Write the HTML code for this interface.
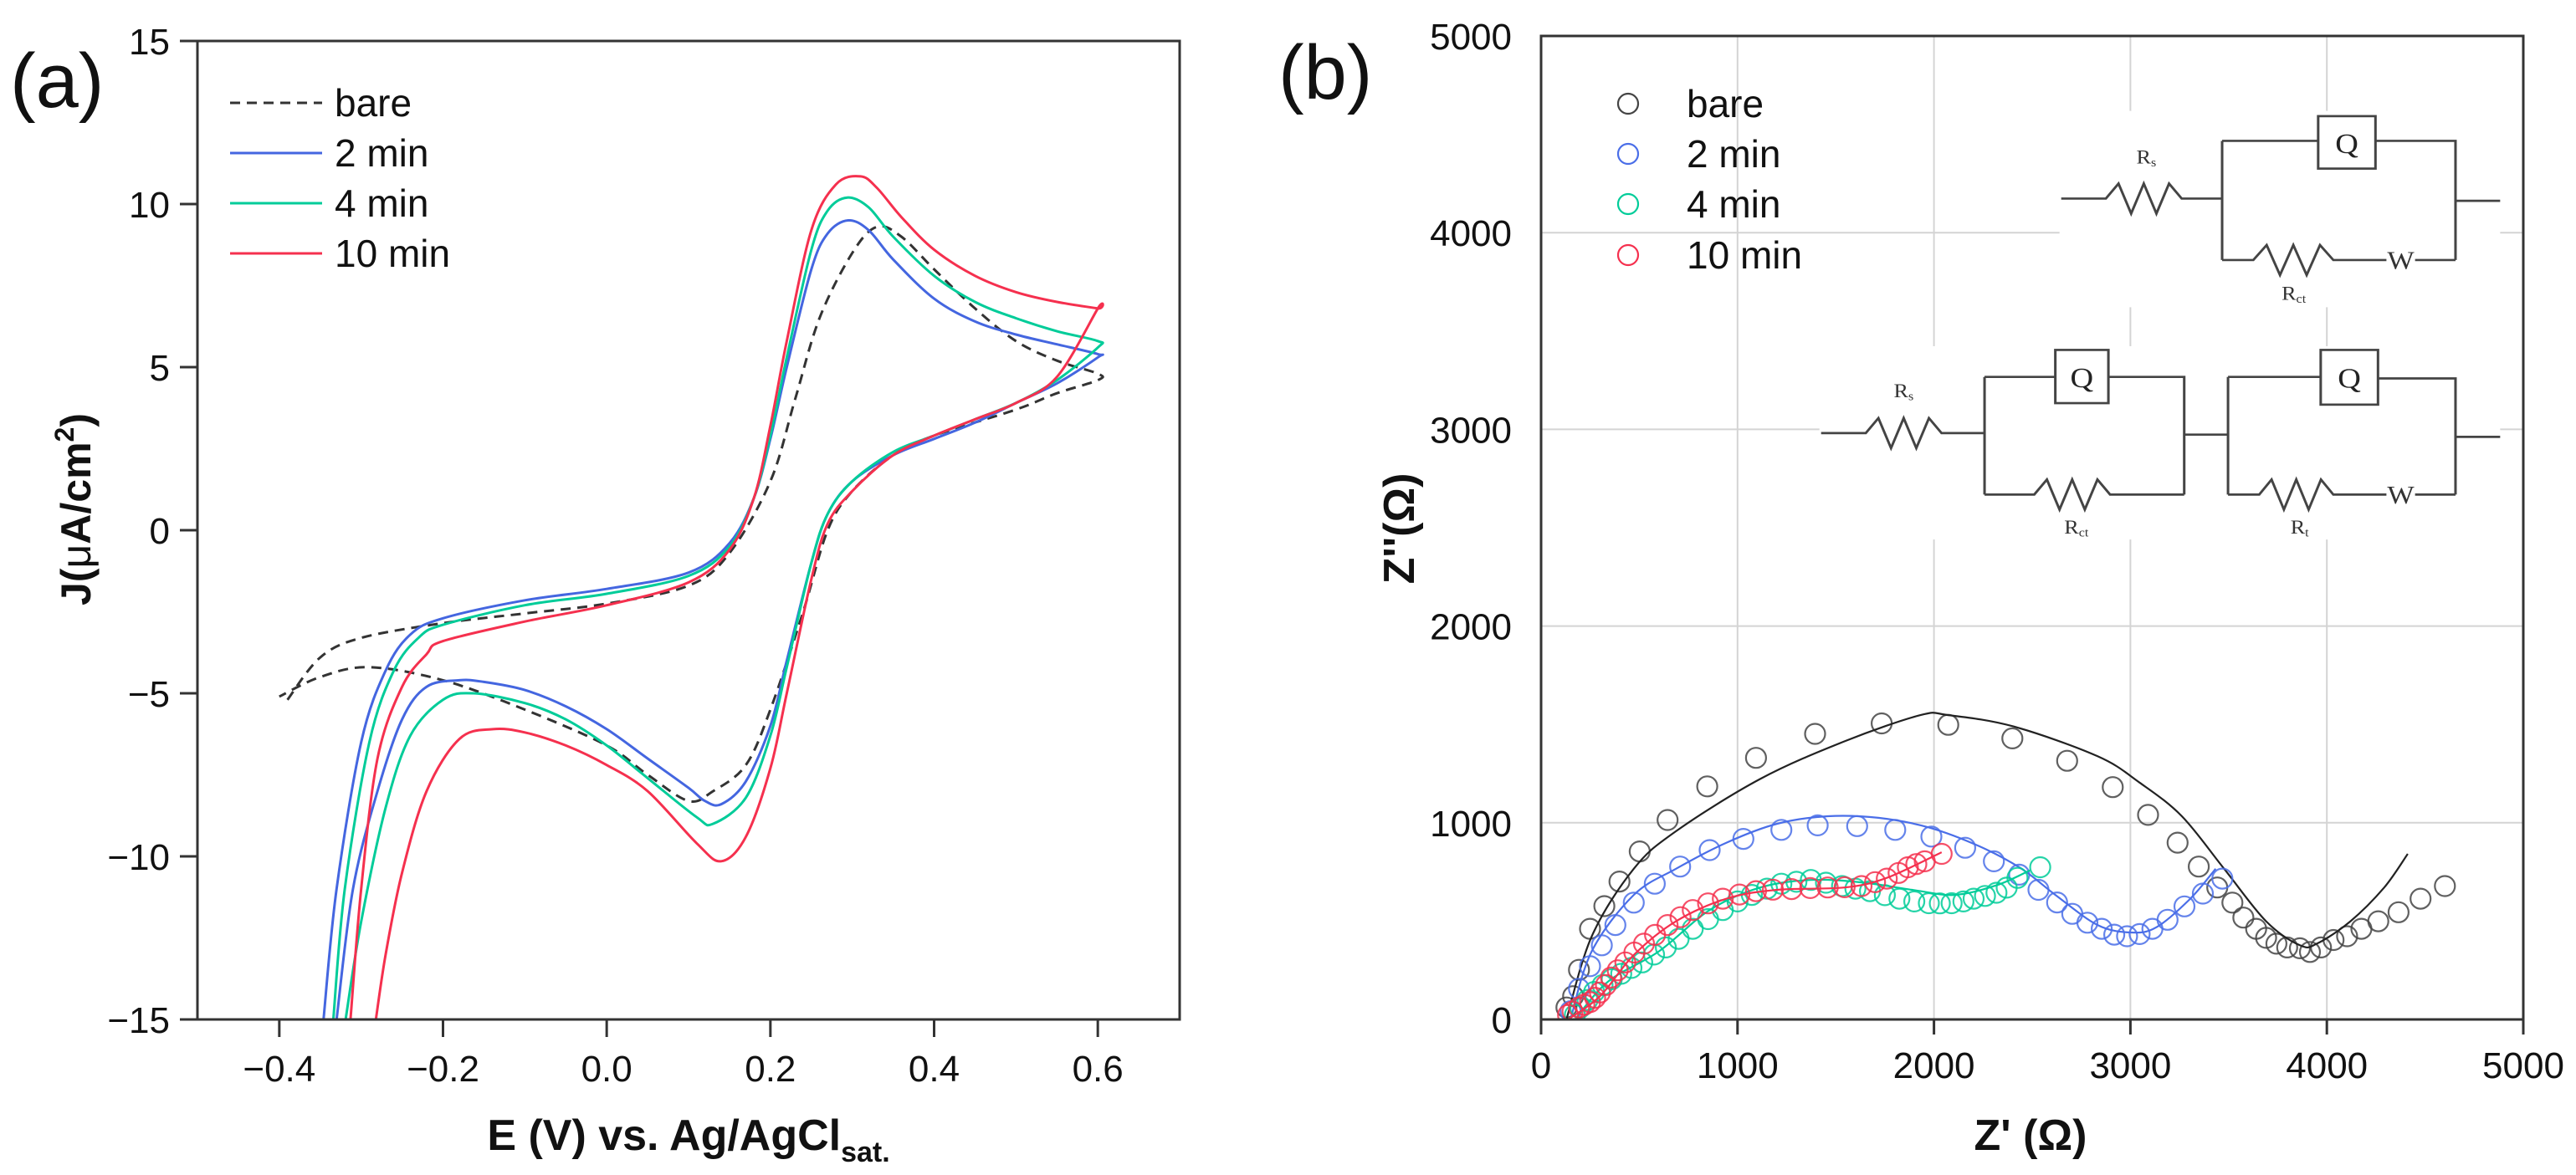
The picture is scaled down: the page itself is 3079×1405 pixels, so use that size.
<!DOCTYPE html>
<html><head><meta charset="utf-8"><style>
html,body{margin:0;padding:0;background:#fff;}
svg{display:block;font-family:"Liberation Sans",Arial,sans-serif;}
</style></head><body>
<svg id="fig" width="3079" height="1405" viewBox="0 0 3079 1405" xmlns="http://www.w3.org/2000/svg">
<rect x="0" y="0" width="3079" height="1405" fill="#fff"/>
<g id="pa"></g>
<g id="pb"></g>
</svg>
<script>
// ---------- Panel (a) data ----------
const cvSeries = ["bare","2 min","4 min","10 min"];
const cvColors = ["#333","#4466e0","#00cc99","#f5304e"];
const cvE_bare = [-0.39,-0.35,-0.3,-0.2,-0.1,0,0.1,0.15,0.2,0.23,0.26,0.3,0.33,0.36,0.4,0.45,0.5,0.55,0.6,0.6,0.55,0.5,0.4,0.35,0.3,0.27,0.24,0.2,0.17,0.13,0.1,0.05,0,-0.1,-0.2,-0.29,-0.35,-0.4];
const cvJ_bare = [-5.2,-3.9,-3.3,-2.85,-2.55,-2.25,-1.7,-0.7,1.5,4,6.5,8.5,9.3,9.0,8.0,6.8,5.8,5.2,4.8,4.6,4.2,3.7,2.9,2.3,1.2,0,-2.5,-5.5,-7.2,-8.0,-8.3,-7.5,-6.6,-5.5,-4.6,-4.2,-4.5,-5.1];
const cvE_2 = [-0.346,-0.33,-0.3,-0.27,-0.24,-0.2,-0.1,0,0.1,0.15,0.18,0.2,0.22,0.25,0.27,0.295,0.32,0.35,0.4,0.45,0.5,0.55,0.6,0.6,0.55,0.5,0.45,0.4,0.35,0.3,0.27,0.25,0.22,0.2,0.17,0.14,0.12,0.1,0.05,0,-0.05,-0.1,-0.15,-0.18,-0.22,-0.25,-0.28,-0.31,-0.33];
const cvJ_2 = [-15,-11,-6.5,-4.3,-3.2,-2.7,-2.15,-1.8,-1.3,-0.4,1.0,2.8,5.0,8.0,9.1,9.5,9.2,8.3,7.1,6.4,6.0,5.7,5.4,5.3,4.5,3.9,3.3,2.8,2.3,1.5,0.5,-1.0,-4.0,-6.0,-7.7,-8.4,-8.3,-7.9,-7.0,-6.1,-5.4,-4.9,-4.65,-4.6,-4.8,-5.8,-8,-11,-15];
const cvE_4 = [-0.334,-0.32,-0.29,-0.26,-0.23,-0.2,-0.1,0,0.1,0.15,0.18,0.2,0.22,0.25,0.27,0.294,0.32,0.35,0.4,0.45,0.5,0.55,0.6,0.6,0.55,0.5,0.45,0.4,0.35,0.3,0.27,0.25,0.22,0.2,0.17,0.13,0.11,0.05,0,-0.05,-0.1,-0.163,-0.2,-0.24,-0.27,-0.3,-0.319];
const cvJ_4 = [-15,-11,-6.5,-4.3,-3.3,-2.9,-2.3,-1.95,-1.4,-0.5,1.0,2.9,5.3,8.6,9.8,10.2,9.9,9.0,7.8,7.0,6.5,6.1,5.8,5.6,4.6,3.9,3.4,2.9,2.4,1.5,0.5,-1.0,-4.2,-6.3,-8.2,-9.0,-8.8,-7.6,-6.6,-5.8,-5.3,-5.0,-5.2,-6.3,-8.5,-12,-15];
const cvE_10 = [-0.313,-0.3,-0.28,-0.25,-0.22,-0.2,-0.1,0,0.1,0.15,0.18,0.2,0.22,0.25,0.28,0.31,0.33,0.36,0.4,0.45,0.5,0.55,0.6,0.6,0.55,0.5,0.45,0.4,0.35,0.3,0.27,0.25,0.22,0.2,0.17,0.14,0.11,0.05,0,-0.05,-0.1,-0.139,-0.18,-0.22,-0.25,-0.27,-0.282];
const cvJ_10 = [-15,-11,-7,-4.8,-3.8,-3.4,-2.8,-2.3,-1.6,-0.6,1.0,3.2,5.8,9.2,10.6,10.85,10.5,9.6,8.6,7.8,7.3,7.0,6.8,6.8,4.7,3.9,3.4,2.9,2.3,1.2,0.2,-1.5,-5.0,-7.3,-9.4,-10.15,-9.6,-8.0,-7.2,-6.6,-6.2,-6.1,-6.4,-8,-10.5,-13,-15];
const cvE = [cvE_bare,cvE_2,cvE_4,cvE_10];
const cvJ = [cvJ_bare,cvJ_2,cvJ_4,cvJ_10];
const cvXTicks = [-0.4,-0.2,0.0,0.2,0.4,0.6];
const cvXTickLabels = ["\u22120.4","\u22120.2","0.0","0.2","0.4","0.6"];
const cvYTicks = [15,10,5,0,-5,-10,-15];
const cvYTickLabels = ["15","10","5","0","\u22125","\u221210","\u221215"];

// ---------- Panel (b) data ----------
const nySeries = ["bare","2 min","4 min","10 min"];
const nyColors = ["#444","#4a6ee8","#00cc99","#f5304e"];
const nyPtX_bare = [129,163,193,249,322,399,502,644,846,1094,1395,1734,2073,2399,2678,2910,3090,3240,3348,3442,3519,3575,3640,3691,3743,3798,3863,3914,3970,4034,4103,4176,4262,4365,4477,4601];
const nyPtY_bare = [61,118,252,461,576,701,854,1014,1185,1330,1452,1505,1498,1429,1315,1181,1040,899,777,671,594,518,461,415,385,366,362,343,366,404,423,461,499,545,614,678];
const nyPtX_2 = [150,193,249,309,378,472,579,708,858,1030,1223,1408,1609,1803,1987,2159,2305,2434,2532,2627,2704,2781,2854,2918,2983,3047,3112,3189,3275,3369,3468];
const nyPtY_2 = [42,156,271,377,480,594,690,777,861,918,964,987,983,964,930,873,804,736,659,595,537,492,461,431,423,434,461,507,575,640,716];
const nyPtX_4 = [172,200,236,270,313,360,408,460,515,575,635,700,772,850,925,1000,1073,1150,1223,1300,1373,1450,1532,1600,1674,1750,1824,1900,1974,2030,2090,2150,2202,2260,2318,2370,2425,2541];
const nyPtY_4 = [23,60,99,140,175,205,232,262,290,330,366,410,461,510,556,600,633,665,690,700,709,695,678,665,652,632,614,600,591,590,591,600,614,628,644,670,720,774];
const nyPtX_10 = [137,160,193,220,249,275,300,330,356,390,429,475,524,580,644,710,772,850,925,1010,1094,1180,1275,1370,1459,1545,1631,1700,1760,1820,1867,1910,1953,2039];
const nyPtY_10 = [23,40,61,75,88,110,137,175,213,250,290,340,385,430,480,520,556,590,614,635,652,660,663,668,671,672,678,698,716,745,774,790,804,842];
const nyFitX_bare = [129,258,472,687,1116,1545,1931,2073,2404,2833,3047,3262,3477,3691,3863,3949,4120,4292,4412];
const nyFitY_bare = [0,423,766,957,1223,1414,1547,1547,1490,1338,1204,1033,766,499,377,385,499,671,842];
const nyFitX_2 = [150,258,472,687,944,1202,1459,1717,1974,2232,2446,2618,2833,3004,3133,3305,3434];
const nyFitY_2 = [0,347,633,766,899,995,1033,1025,976,880,766,633,480,442,469,614,766];
const nyFitX_4 = [172,343,601,858,1116,1373,1631,1889,2103,2318,2489];
const nyFitY_4 = [0,194,347,556,671,709,697,659,633,682,758];
const nyFitX_10 = [137,300,472,687,944,1202,1545,1760,2039];
const nyFitY_10 = [0,118,328,499,614,659,671,720,850];
const nyPtX = [nyPtX_bare,nyPtX_2,nyPtX_4,nyPtX_10];
const nyPtY = [nyPtY_bare,nyPtY_2,nyPtY_4,nyPtY_10];
const nyFitX = [nyFitX_bare,nyFitX_2,nyFitX_4,nyFitX_10];
const nyFitY = [nyFitY_bare,nyFitY_2,nyFitY_4,nyFitY_10];
const nyTicks = [0,1000,2000,3000,4000,5000];
const nyTickLabels = ["0","1000","2000","3000","4000","5000"];

const NS = "http://www.w3.org/2000/svg";
function mk(parent, tag, attrs, text){
  const e = document.createElementNS(NS, tag);
  for (const k in attrs) e.setAttribute(k, attrs[k]);
  if (text !== undefined) e.textContent = text;
  parent.appendChild(e);
  return e;
}
function smooth(pts){
  let d = 'M'+pts[0][0].toFixed(1)+' '+pts[0][1].toFixed(1);
  for(let i=0;i<pts.length-1;i++){
    const p0=pts[Math.max(i-1,0)], p1=pts[i], p2=pts[i+1], p3=pts[Math.min(i+2,pts.length-1)];
    const c1=[p1[0]+(p2[0]-p0[0])/6, p1[1]+(p2[1]-p0[1])/6];
    const c2=[p2[0]-(p3[0]-p1[0])/6, p2[1]-(p3[1]-p1[1])/6];
    d+=' C'+c1[0].toFixed(1)+' '+c1[1].toFixed(1)+' '+c2[0].toFixed(1)+' '+c2[1].toFixed(1)+' '+p2[0].toFixed(1)+' '+p2[1].toFixed(1);
  }
  return d;
}

// ===== Panel a =====
const pa = document.getElementById('pa');
const aL=236, aR=1410, aT=49, aB=1219;
const ax = v => aL + (v - (-0.5)) / 1.2 * (aR - aL);
const ay = v => aB - (v - (-15)) / 30 * (aB - aT);

let t = mk(pa,'text',{x:12,y:128,'font-size':92,fill:'#111'},'(a)');



const clipA = mk(pa,'clipPath',{id:'clipA'});
mk(clipA,'rect',{x:aL,y:aT,width:aR-aL,height:aB-aT});

cvSeries.forEach((s,i)=>{
  const pts = cvE[i].map((e,k)=>[ax(e), ay(cvJ[i][k])]);
  const p = mk(pa,'path',{d:smooth(pts),fill:'none',stroke:cvColors[i],'stroke-width':3,'clip-path':'url(#clipA)','stroke-linejoin':'round'});
  if(i===0) p.setAttribute('stroke-dasharray','12 8');
  
  
});

const frameA = mk(pa,'rect',{x:aL,y:aT,width:aR-aL,height:aB-aT,fill:'none',stroke:'#333','stroke-width':3});



cvXTicks.forEach((v,i)=>{
  const l = mk(pa,'line',{x1:ax(v),x2:ax(v),y1:aB,y2:aB+21,stroke:'#333','stroke-width':3});
  
  
  const tx = mk(pa,'text',{x:ax(v),y:aB+74,'font-size':44,'text-anchor':'middle',fill:'#111'},cvXTickLabels[i]);
  
  
});
cvYTicks.forEach((v,i)=>{
  const l = mk(pa,'line',{x1:aL-21,x2:aL,y1:ay(v),y2:ay(v),stroke:'#333','stroke-width':3});
  
  
  const tx = mk(pa,'text',{x:203,y:ay(v)+16,'font-size':44,'text-anchor':'end',fill:'#111'},cvYTickLabels[i]);
  
  
});

t = mk(pa,'text',{x:823,y:1375,'font-size':52,'font-weight':'bold','text-anchor':'middle',fill:'#111'});


t.innerHTML = 'E (V) vs. Ag/AgCl<tspan font-size="34" dy="14">sat.</tspan>';
t = mk(pa,'text',{x:0,y:0,'font-size':50,'font-weight':'bold','text-anchor':'middle',fill:'#111',transform:'translate(108,609) rotate(-90)'});


t.innerHTML = 'J(<tspan font-weight="normal">\u03bc</tspan>A/cm<tspan font-size="32" dy="-20">2</tspan><tspan dy="20">)</tspan>';

const legA = [123,183,243,303];
cvSeries.forEach((s,i)=>{
  const l = mk(pa,'line',{x1:275,x2:385,y1:legA[i],y2:legA[i],stroke:cvColors[i],'stroke-width':3});
  if(i===0) l.setAttribute('stroke-dasharray','12 8');
  
  
  const tx = mk(pa,'text',{x:400,y:legA[i]+16,'font-size':46,fill:'#111'},s);
  
  
});

// ===== Panel b =====
const pb = document.getElementById('pb');
const bL=1842, bR=3016, bT=43, bB=1219;
const bx = v => bL + v/5000*(bR-bL);
const by = v => bB - v/5000*(bB-bT);

t = mk(pb,'text',{x:1528,y:118,'font-size':92,fill:'#111'},'(b)');



nyTicks.forEach(v=>{
  if(v>0 && v<5000){
    const g1 = mk(pb,'line',{x1:bx(v),x2:bx(v),y1:bT,y2:bB,stroke:'#d4d4d4','stroke-width':2});
    
    
    const g2 = mk(pb,'line',{x1:bL,x2:bR,y1:by(v),y2:by(v),stroke:'#d4d4d4','stroke-width':2});
    
    
  }
});

// circuit insets
const ins = mk(pb,'g',{transform:'translate(1500,0) scale(1.007,0.896)',stroke:'#444','stroke-width':3,fill:'none'});


mk(ins,'rect',{x:955,y:148,width:523,height:262,fill:'#fff',stroke:'none'});
mk(ins,'rect',{x:670,y:462,width:808,height:258,fill:'#fff',stroke:'none'});
function zig(x1,x2,y){ let d='M'+x1+' '+y; const n=6, w=(x2-x1)/n; for(let k=1;k<n;k++){ d+=' L'+(x1+k*w)+' '+(y+(k%2?-20:20)); } d+=' L'+x2+' '+y; return d; }
function qbox(x1,x2,y1,y2){ mk(ins,'rect',{x:x1,y:y1,width:x2-x1,height:y2-y1,fill:'#fff'}); mk(ins,'text',{x:(x1+x2)/2,y:(y1+y2)/2+14,'font-size':38,'text-anchor':'middle',fill:'#222',stroke:'none','font-family':'Liberation Serif,serif'},'Q'); }
function lbl(x,y,s,sub){ const e=mk(ins,'text',{x:x,y:y,'font-size':26,'text-anchor':'middle',fill:'#333',stroke:'none','font-family':'Liberation Serif,serif'}); e.innerHTML=s+'<tspan font-size="16" dy="4">'+sub+'</tspan>'; }
function wlbl(x,y){ mk(ins,'text',{x:x,y:y+12,'font-size':34,'text-anchor':'middle',fill:'#333',stroke:'none','font-family':'Liberation Serif,serif'},'W'); }
// inset 1
mk(ins,'path',{d:'M957 265 L1010 265 '+zig(1010,1100,265).replace('M','L')+' L1148 265 M1148 188 L1148 347 M1148 188 L1262 188 M1330 188 L1425 188 L1425 347 M1148 347 L1185 347 '+zig(1185,1280,347).replace('M','L')+' L1343 347 M1377 347 L1425 347 M1425 268 L1478 268'});
qbox(1262,1330,155,225); wlbl(1360,347); lbl(1058,218,'R','s'); lbl(1233,400,'R','ct');
// inset 2
mk(ins,'path',{d:'M672 578 L725 578 '+zig(725,815,578).replace('M','L')+' L866 578 M866 503 L866 660 M866 503 L950 503 M1013 503 L1103 503 L1103 660 M866 660 L925 660 '+zig(925,1015,660).replace('M','L')+' L1103 660 M1103 580 L1155 580 M1155 503 L1155 660 M1155 503 L1265 503 M1333 505 L1425 505 L1425 660 M1155 660 L1192 660 '+zig(1192,1280,660).replace('M','L')+' L1343 660 M1377 660 L1425 660 M1425 583 L1478 583'});
qbox(950,1013,467,538); qbox(1265,1333,467,540); wlbl(1360,660);
lbl(770,530,'R','s'); lbl(975,712,'R','ct'); lbl(1240,712,'R','t');

const clipB = mk(pb,'clipPath',{id:'clipB'});
mk(clipB,'rect',{x:bL,y:bT,width:bR-bL,height:bB-bT});

nySeries.forEach((s,i)=>{
  nyPtX[i].forEach((v,k)=>{
    const c = mk(pb,'circle',{cx:bx(v).toFixed(1),cy:by(nyPtY[i][k]).toFixed(1),r:12,fill:'none',stroke:nyColors[i],'stroke-width':2.2,'stroke-opacity':0.85,'clip-path':'url(#clipB)'});
    
    
  });
  const pts = nyFitX[i].map((v,k)=>[bx(v), by(nyFitY[i][k])]);
  const p = mk(pb,'path',{d:smooth(pts),fill:'none',stroke:i===0?'#222':nyColors[i],'stroke-width':2.2,'stroke-linejoin':'round'});
  
  
});

const frameB = mk(pb,'rect',{x:bL,y:bT,width:bR-bL,height:bB-bT,fill:'none',stroke:'#333','stroke-width':3});



nyTicks.forEach((v,i)=>{
  const l = mk(pb,'line',{x1:bx(v),x2:bx(v),y1:bB,y2:bB+18,stroke:'#333','stroke-width':3});
  
  
  const tx = mk(pb,'text',{x:bx(v),y:bB+70,'font-size':44,'text-anchor':'middle',fill:'#111'},nyTickLabels[i]);
  
  
  const ty = mk(pb,'text',{x:1807,y:by(v)+16,'font-size':44,'text-anchor':'end',fill:'#111'},nyTickLabels[i]);
  
  
});

t = mk(pb,'text',{x:2427,y:1375,'font-size':52,'font-weight':'bold','text-anchor':'middle',fill:'#111'},"Z' (\u03a9)");


t = mk(pb,'text',{x:0,y:0,'font-size':52,'font-weight':'bold','text-anchor':'middle',fill:'#111',transform:'translate(1690,632) rotate(-90)'},"Z''(\u03a9)");



const legB = [124,184,244,305];
nySeries.forEach((s,i)=>{
  const c = mk(pb,'circle',{cx:1946,cy:legB[i],r:12,fill:'none',stroke:nyColors[i],'stroke-width':2.2});
  
  
  const tx = mk(pb,'text',{x:2016,y:legB[i]+16,'font-size':46,fill:'#111'},s);
  
  
});
</script>
</body></html>
